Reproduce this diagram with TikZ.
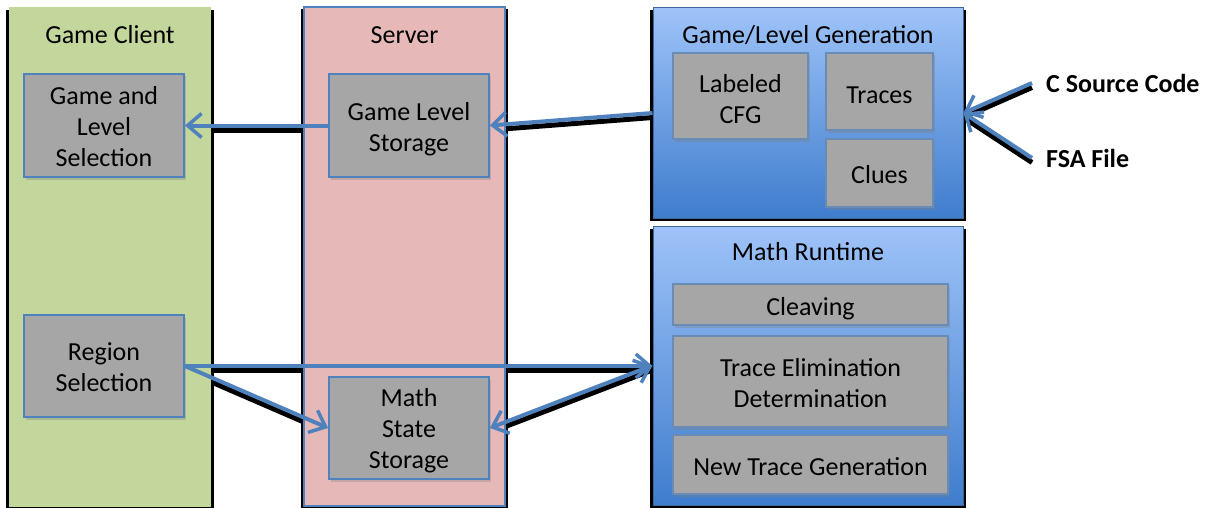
\documentclass[tikz,border=0pt]{standalone}
\usepackage{fontspec}
\setmainfont{Carlito}
\usetikzlibrary{arrows.meta,calc,shadows}
\pgfdeclarelayer{back}
\pgfdeclarelayer{front}
\pgfsetlayers{back,main,front}
\definecolor{clientgreen}{HTML}{C3D69B}
\definecolor{serverpink}{HTML}{E6B9B8}
\definecolor{boxgrey}{HTML}{A6A6A6}
\definecolor{linkblue}{HTML}{4F81BD}
\definecolor{gentop}{HTML}{9EC3F8}
\definecolor{genbottom}{HTML}{3F7DCD}
\tikzset{
  txt/.style={font=\fontsize{26}{31}\selectfont, align=center, inner sep=0pt},
  panel/.style={txt, rectangle, anchor=center},
  clientpanel/.style={panel, fill=clientgreen},
  serverpanel/.style={panel, fill=serverpink, draw=linkblue, line width=1.5pt},
  genpanel/.style={panel, top color=gentop, bottom color=genbottom, draw=linkblue!80!black, line width=1pt},
  part/.style={txt, rectangle, fill=boxgrey, draw=linkblue, line width=1.8pt,
    drop shadow={shadow xshift=1.5pt, shadow yshift=-2.5pt, opacity=0.35}},
  inpart/.style={part, draw=linkblue!70!boxgrey},
  title/.style={txt},
  source/.style={txt, font=\fontsize{26}{31}\selectfont\bfseries, anchor=west, inner xsep=14pt},
  link/.style={draw=linkblue, line width=4pt,
    -{Straight Barb[length=14pt,width=24pt,line width=3.5pt]}},
  linkboth/.style={link, {Straight Barb[length=14pt,width=24pt,line width=3.5pt]}-{Straight Barb[length=14pt,width=24pt,line width=3.5pt]}},
  linkshade/.style={draw=black, line width=5pt, transform canvas={yshift=-4.5pt}}
}
% text block lowered by #1 without changing its reported size
\newcommand{\lowered}[2]{\raisebox{-#1}[\height][\depth]{\begin{tabular}{@{}c@{}}#2\end{tabular}}}
\newcommand{\panelshadow}[1]{%
  \fill[black] ($(#1.north west)+(-2.5,3)$) rectangle ($(#1.south east)+(2.5,2.5)$);}
\begin{document}
\begin{tikzpicture}[x=1pt,y=-1pt]
\useasboundingbox (0,0) rectangle (1206,508);

% columns
\node[clientpanel, minimum width=202pt, minimum height=500pt] (client) at (110,257) {};
\node[serverpanel, minimum width=201pt, minimum height=499pt] (server) at (404.5,256.5) {};
\node[genpanel, minimum width=310pt, minimum height=210pt] (gen) at (808,113) {};
\node[genpanel, minimum width=310pt, minimum height=279pt] (rt) at (808,365.5) {};

% panel titles
\node[title] (clientT) at (110,35) {Game Client};
\node[title] (serverT) at (404.5,35) {Server};
\node[title] (genT) at (808,35) {Game/Level Generation};
\node[title] (rtT) at (808,252) {Math Runtime};

% client parts
\node[part, minimum width=160pt, minimum height=103pt] (gls) at (104,125.5) {\lowered{4pt}{Game and\\Level\\Selection}};
\node[part, minimum width=160pt, minimum height=102pt] (region) at (104,366) {\lowered{3.5pt}{Region\\Selection}};

% server parts
\node[part, minimum width=160pt, minimum height=103pt] (gstore) at (409,125.5) {\lowered{4.5pt}{Game Level\\Storage}};
\node[part, minimum width=160pt, minimum height=102pt] (mss) at (409,428) {\lowered{3pt}{Math\\State\\Storage}};

% generation parts
\node[inpart, minimum width=135pt, minimum height=86pt] (cfg) at (740.5,96) {\lowered{6pt}{Labeled\\CFG}};
\node[inpart, minimum width=107pt, minimum height=77pt] (traces) at (879.5,91.5) {\lowered{6pt}{Traces}};
\node[inpart, minimum width=107pt, minimum height=68pt] (clues) at (879.5,173) {\lowered{4pt}{Clues}};

% runtime parts
\node[inpart, minimum width=275pt, minimum height=41pt] (cleave) at (810.5,304.5) {\lowered{5pt}{Cleaving}};
\node[inpart, minimum width=275pt, minimum height=91pt] (ted) at (810.5,381.5) {\lowered{4pt}{Trace Elimination\\Determination}};
\node[inpart, minimum width=275pt, minimum height=59pt] (ntg) at (810.5,464.5) {\lowered{5pt}{New Trace Generation}};

% inputs
\node[source] (src) at (1032,83) {C Source Code};
\node[source] (fsa) at (1032,158) {FSA File};

% shadows of the columns and links
\begin{pgfonlayer}{back}
  \panelshadow{client}
  \panelshadow{server}
  \panelshadow{gen}
  \panelshadow{rt}
  \draw[linkshade] (gen.west) -- (gstore.east);
  \draw[linkshade] (gstore.west) -- (gls.east);
  \draw[linkshade] (region.east) -- (region.east -| rt.west);
  \draw[linkshade] (region.east) -- (mss.west);
  \draw[linkshade] (mss.east) -- (rt.west);
  \draw[linkshade] (src.west) -- (gen.east);
  \draw[linkshade] (fsa.west) -- (gen.east);
\end{pgfonlayer}

% data flow
\begin{pgfonlayer}{front}
  \draw[link] (gen.west) -- (gstore.east);
  \draw[link] (gstore.west) -- (gls.east);
  \draw[link] (region.east) -- (region.east -| rt.west);
  \draw[link] (region.east) -- (mss.west);
  \draw[linkboth] (mss.east) -- (rt.west);
  \draw[link] (src.west) -- (gen.east);
  \draw[link] (fsa.west) -- (gen.east);
\end{pgfonlayer}
\end{tikzpicture}
\end{document}
